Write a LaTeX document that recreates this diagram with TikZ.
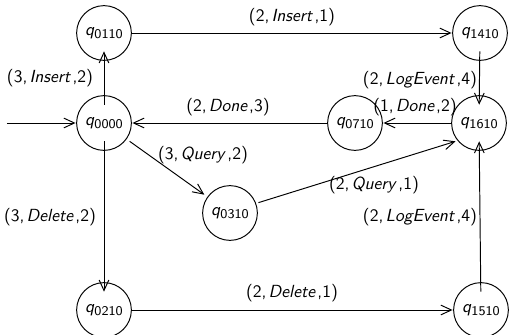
\documentclass[tikz,border=0pt]{standalone}
\usetikzlibrary{arrows.meta}
\newcommand\qlab[1]{\textit{q}\raisebox{-0.35ex}{\fontsize{7.6}{8}\selectfont #1}}
\newcommand\tlab[3]{(#1,\kern1.2pt\textit{#2}\/\kern0.8pt,#3)}
\begin{document}
\begin{tikzpicture}[x=0.57pt,y=-0.57pt,
  font=\sffamily,
  st/.style={rectangle,inner sep=0pt,minimum width=32pt,minimum height=20.5pt},
  ring/.style={draw,line width=0.55pt},
  edge/.style={draw,line width=0.55pt,-{Straight Barb[length=6pt,width=5.5pt,line width=0.55pt]}},
  lab/.style={inner sep=0pt}]
\useasboundingbox (0,0) rectangle (511,335);
% states
\node[st] (q0110) at (104,33)  {\qlab{0110}};
\node[st] (q1410) at (480,33)  {\qlab{1410}};
\node[st] (q0000) at (104,123) {\qlab{0000}};
\node[st] (q0710) at (355,123) {\qlab{0710}};
\node[st] (q1610) at (479,123) {\qlab{1610}};
\node[st] (q0310) at (230,213) {\qlab{0310}};
\node[st] (q0210) at (104,310) {\qlab{0210}};
\node[st] (q1510) at (481,310) {\qlab{1510}};
\foreach \n in {q0110,q1410,q0000,q0710,q1610,q0310,q0210,q1510}
  \draw[ring] (\n.center) circle[radius=15.6pt];
\coordinate (init) at (7,123);
% transitions
\draw[edge] (init) -- (q0000);
\draw[edge] (q0000) -- (q0110);
\draw[edge] (q0110) -- (q1410);
\draw[edge] (q1410) -- (q1610);
\draw[edge] (q1610) -- (q0710);
\draw[edge] (q0710) -- (q0000);
\draw[edge] (q0000) -- (q0310);
\draw[edge] (q0310.20) -- (q1610.218);
\draw[edge] (q1510) -- (q1610);
\draw[edge] (q0000) -- (q0210);
\draw[edge] (q0210) -- (q1510);
% labels
\node[lab] (l1) at (50,78)   {\tlab{3}{Insert}{2}};
\node[lab] (l2) at (292,17)  {\tlab{2}{Insert}{1}};
\node[lab] (l3) at (420,80)  {\tlab{2}{LogEvent}{4}};
\node[lab] (l4) at (415,107) {\tlab{1}{Done}{2}};
\node[lab] (l5) at (228,107) {\tlab{2}{Done}{3}};
\node[lab] (l6) at (203,155) {\tlab{3}{Query}{2}};
\node[lab] (l7) at (374,185) {\tlab{2}{Query}{1}};
\node[lab] (l8) at (420,217) {\tlab{2}{LogEvent}{4}};
\node[lab] (l9) at (50,217)  {\tlab{3}{Delete}{2}};
\node[lab] (l10) at (292,293) {\tlab{2}{Delete}{1}};
\end{tikzpicture}
\end{document}
